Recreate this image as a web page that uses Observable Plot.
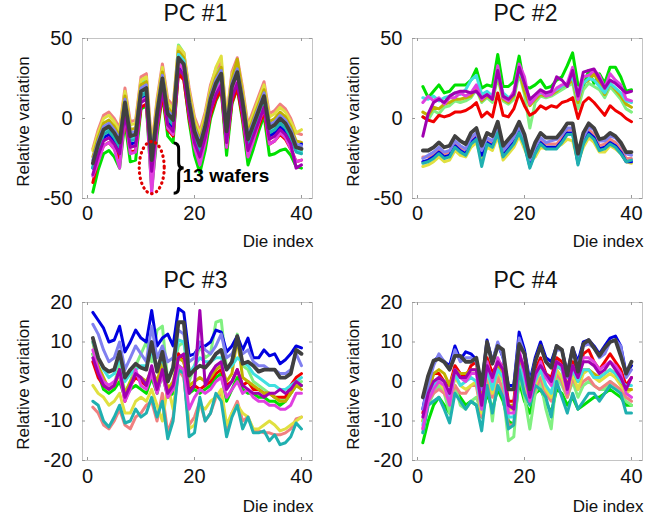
<!DOCTYPE html>
<html><head><meta charset="utf-8">
<script src="https://cdn.jsdelivr.net/npm/d3@7"></script>
<script src="https://cdn.jsdelivr.net/npm/@observablehq/plot@0.6"></script>
<style>
html,body{margin:0;padding:0;background:#fff;}
#root{position:relative;width:665px;height:518px;overflow:hidden;font-family:"Liberation Sans",Arial,sans-serif;}
.panel{position:absolute;}
</style></head><body><div id="root"></div>
<script>
const dieIndex = [1,2,3,4,5,6,7,8,9,10,11,12,13,14,15,16,17,18,19,20,21,22,23,24,25,26,27,28,29,30,31,32,33,34,35,36,37,38,39,40];
const wafers = ["Wafer 1","Wafer 2","Wafer 3","Wafer 4","Wafer 5","Wafer 6","Wafer 7","Wafer 8","Wafer 9","Wafer 10","Wafer 11","Wafer 12","Wafer 13"];
const waferColors = ["#00e000","#80f080","#f00000","#f08080","#e0e040","#c0b000","#0000e0","#8080f0","#40e0e0","#20b0b0","#e040e0","#a000b0","#404040"];
const pcTitles = ["PC #1","PC #2","PC #3","PC #4"];
const xTicks = [0,20,40];
const yTicksWide = [-50,0,50];
const yTicksNarrow = [-20,-10,0,10,20];
const xLabel = "Die index";
const yLabel = "Relative variation";
const annotationText = "13 wafers";
const annotationTextPos = [17.8, -36];
const ellipseCenter = [12.1, -31];
const ellipseRadiiPx = [12.5, 26];
const braceSpan = [16.2, -15.6, -47];

// wafer order: green, light green, red, salmon, yellow, olive, blue, light blue, cyan, teal, magenta, purple, dark gray
const pc1Values = [
[-46,-32,-22,-20,-24,-31,-2,-27,-26,6,8,-44,-11,15,-11,-15,30,25,-2,-23,-34,-20,0,11,18,-23,9,19,-2,-29,-19,-8,2,-23,-22,-20,-19,-23,-30,-31],
[-30,-16,-6,-4,-8,-15,14,-11,-10,22,24,-28,5,31,5,1,46,41,14,-7,-18,-4,16,27,34,-7,25,35,14,-13,-3,8,18,-5,-3,2,-1,-8,-19,-20],
[-40,-26,-17,-15,-19,-25,0,-21,-20,7,9,-36,-7,15,-7,-11,28,24,0,-18,-27,-15,2,12,18,-18,10,19,0,-23,-14,-5,4,-16,-14,-10,-13,-19,-27,-26],
[-19,-7,2,4,0,-6,19,-2,-1,26,28,-17,12,34,12,8,44,41,19,1,-8,4,21,31,35,1,29,38,19,-4,5,14,23,3,5,9,6,0,-9,-10],
[-20,-9,0,2,-2,-8,17,-4,-3,24,26,-19,10,32,10,6,45,41,17,-1,-10,2,19,32,39,-1,27,36,17,-6,3,12,21,1,3,7,4,-2,-9,-7],
[-24,-12,-3,-1,-5,-11,14,-7,-6,21,23,-22,7,29,7,3,42,38,14,-4,-13,-1,16,26,32,-4,24,37,14,-9,0,9,18,-2,0,4,1,-5,-14,-15],
[-31,-21,-12,-10,-14,-20,5,-16,-15,12,14,-31,-2,20,-2,-6,33,29,5,-13,-22,-10,7,17,21,-13,15,24,5,-18,-9,0,9,-11,-9,-5,-8,-14,-18,-16],
[-26,-14,-5,-3,-7,-13,12,-9,-8,19,21,-24,5,27,5,1,40,36,12,-6,-15,-3,14,24,30,-6,22,31,12,-11,-2,7,16,-4,-2,2,-1,-7,-16,-17],
[-30,-18,-9,-7,-11,-17,8,-13,-12,15,17,-28,1,23,1,-3,40,36,8,-10,-19,-7,10,20,26,-10,18,27,8,-15,-6,3,12,-8,-6,-2,-5,-11,-20,-21],
[-31,-19,-10,-8,-12,-18,7,-14,-13,14,16,-29,0,22,0,-4,35,31,7,-11,-20,-8,9,19,25,-11,17,26,7,-16,-7,2,11,-9,-7,-3,-6,-12,-21,-22],
[-36,-27,-17,-15,-19,-31,3,-22,-21,11,13,-47,-6,20,-6,-10,35,30,3,-18,-29,-15,5,16,23,-18,14,24,3,-24,-14,-3,7,-16,-14,-9,-12,-19,-27,-26],
[-35,-23,-14,-12,-16,-22,3,-18,-17,10,12,-33,-4,18,-4,-8,31,27,3,-15,-24,-12,5,15,21,-15,13,22,3,-20,-11,-2,7,-13,-11,-7,-10,-16,-31,-29],
[-28,-16,-7,-5,-9,-15,10,-11,-10,17,19,-26,3,25,3,-1,38,34,10,-8,-17,-5,12,22,28,-8,20,29,10,-13,-4,5,14,-6,-4,0,-3,-9,-18,-19]
];
const pc2Values = [
[20,13,17,21,16,17,21,21,21,24,31,19,21,20,40,20,20,23,39,20,19,21,24,19,20,24,26,33,41,21,20,30,22,28,22,32,32,26,17,18],
[1,-1,5,3,7,8,11,10,11,13,18,10,13,10,26,11,9,12,28,15,-6,10,14,13,14,16,18,20,22,6,18,22,20,18,13,20,16,12,6,4],
[1,-1,-2,2,1,2,4,4,5,7,10,1,4,1,16,2,1,6,16,8,2,4,8,6,8,7,10,11,13,0,10,13,10,6,2,8,5,3,0,-2],
[-24,-24,-22,-19,-22,-21,-15,-18,-20,-13,-10,-21,-13,-15,-6,-21,-17,-13,-6,-14,-28,-19,-13,-16,-16,-16,-12,-7,-7,-26,-13,-7,-10,-17,-16,-13,-15,-19,-25,-25],
[-30,-29,-27,-24,-27,-26,-20,-23,-24,-18,-15,-26,-18,-20,-11,-26,-22,-18,-11,-19,-27,-24,-18,-19,-18,-18,-16,-13,-14,-27,-18,-12,-15,-21,-21,-17,-19,-22,-27,-28],
[4,2,7,6,9,10,12,12,13,14,20,11,14,12,28,12,10,14,30,17,8,12,15,14,15,17,20,21,24,10,22,24,28,22,15,22,18,14,9,7],
[-27,-26,-24,-21,-24,-23,-17,-20,-22,-15,-12,-23,-15,-17,-8,-23,-19,-15,-8,-16,-30,-21,-15,-18,-18,-18,-14,-9,-9,-28,-15,-9,-12,-19,-18,-15,-17,-21,-27,-27],
[-25,-23,-21,-18,-21,-20,-14,-17,-19,-12,-9,-20,-12,-14,-5,-20,-16,-12,-5,-13,-26,-18,-12,-15,-14,-13,-10,-6,-6,-25,-12,-5,-7,-14,-14,-11,-12,-16,-22,-23],
[13,12,14,11,13,14,16,15,18,24,27,15,17,14,28,16,13,15,30,22,11,14,16,15,16,18,20,22,26,12,22,25,24,20,16,22,19,16,11,10],
[-28,-27,-25,-22,-25,-24,-18,-21,-23,-16,-13,-30,-16,-18,-9,-24,-20,-16,-9,-17,-31,-22,-16,-19,-19,-19,-15,-10,-10,-29,-16,-10,-13,-20,-19,-16,-18,-22,-27,-26],
[10,14,11,13,9,13,13,16,14,16,21,12,15,13,33,13,11,17,34,26,9,13,17,14,15,19,21,22,32,12,26,27,30,27,19,28,24,21,12,11],
[-11,3,10,12,10,14,16,17,17,16,17,13,15,12,30,14,12,15,32,22,12,15,18,16,17,26,24,20,30,14,29,30,31,25,19,24,22,19,16,17],
[-20,-20,-18,-15,-18,-17,-11,-14,-16,-9,-6,-17,-9,-11,-2,-17,-13,-9,-2,-10,-24,-15,-9,-12,-12,-12,-8,-3,-3,-22,-9,-3,-6,-13,-12,-9,-11,-15,-21,-21]
];
const pc3Values = [
[7,2,-2,-3,-2,0,-4,-2,-1,-2,-3,1,-3,2,-4,-3,4,3,-3,-2,-3,-2,-1,1,2,-5,-2,1,-2,-3,-3,-4,-4,-5,-5,-6,-5,-3,-1,-1],
[7,3,0,-2,-1,5,-3,0,4,7,10,5,13,14,0,3,9,10,0,4,9,6,7,15,15.5,3,5,12,4,3,0,-1,-2,-3,-4,-5,-4,-3,-1,0],
[5,1,-1,-2,-1,3,-5,-1,1,0,-1,3,-2,4,-3,-2,7,5,-2,-1,-2,-1,0,2,3,-1,0,3,-1,0,-2,-2,-3,-3,-4,-4,-4,-1,1,2],
[-6.5,-8,-11,-12,-10,-7,-11,-12,-9,-8,-6,-5,-10,-3,-13,-9,3,1,-11,-9,-5,-10,-8,-4,-3,-12,-8,-5,-10,-9,-12.5,-12.5,-13,-13,-13.5,-13.5,-13,-12,-9.5,-9],
[-1,-3,-4,-6,-5,-3,-8,-8,-5,-4,-5,-2,-6,-10,-1,-7,3,2,-12,-11,-6,-7,-5,-4,-2,-11,-8,-6,-8,-9,-12,-12,-11,-10,-11,-12.5,-12,-11,-10,-9],
[10,4,1,-2,-1,2,-3,0,2,1,0,3,0,5,-2,0,6,5,-1,0,1,0,1,3,4,0,2,11,1,0,-1,-2,-3,-3,-4,-5,-5,-3,-1,-2],
[17.5,15.5,13.5,10,10.5,14,7.5,10,13,11,10,18,9,11,12,9,18.5,17.5,6.5,7,9,9,10,13,12.5,7.5,9,11.5,8,11,6,6,8,6.5,7,4.5,5.5,7,9,8.5],
[14.5,12,8,5,6,10,3,6,9,7,5,14,6,9,5,6,13,12,5,6,10,8,7,9,12,6,7,10,7,8,5,4,4,3,3,2,2,3,7,4],
[10,6,3,1,2,6,0,2,3,4,4,8,3,6,0,4,10.5,10,2,4,6,5,5,6,6,3,4,6,5,4,2,1,0,-1,-1,-2,-2,-1,0,1],
[-5,-6,-10,-11.5,-9,-6,-10.5,-10,-7,-9,-8,-4,-9,-5,-14.5,-10,3,2,-14,-13,-4,-10,-8,-3,-5,-14,-9,-6,-12,-9,-13,-13,-12.5,-15,-13.5,-16,-15.5,-14,-10.5,-12],
[8,3,0,-1,0,2,-5,-2,3,-1,-2,2,-3,2,-4,-2,4,3,-7,-4,-2,-3,-2,0,1,-4,-2,0,-3,-2,-4,-5,-5,-6,-6,-7,-7,-6,-3,-3],
[6,2,-1,-2,-1,3,-4,-1,2,1,-1,4,-2,3,-3,-1,6,7,-3,-1,18,-1,2,4,5,-2,0,3,-1,-2,-3,-3,-4,-3,-3,-2,-3,-2,0,-1],
[11,6,3.5,2.5,3,7.5,1,3,4.5,3.5,3,10,2.5,7.5,0,3.5,15,15,1.5,3,4,3.5,5,7,8,3,5,11.5,4.5,5,4,2.5,3,3,3,1,1,2,8,7]
];
const pc4Values = [
[-15.5,-10,-6,-4,-6,-8,-2,-4,-6,-5,-6,-9,-3,-7,-2,-5,-10,-11,0,-5,-8,-3,-2,-5,-8,-2,-3,-6,-4,-7,-6,-5,-4,-4,-3,-2,-3,-4,-6,-6],
[-13,-6,-3,-1,-3,-8,-1,-6,-7,-5,-4,-8,2,-10,2,-3,-15,-14,2,-4,-12,-3,0,-7,-12,1,-1,-4,0,-4,-1,0,-1,-2,-2,0,-1,-3,-5,-6],
[-8,-2,2,2,0,-1,4,2,1,4,5,-6,6,2,5,4,-5,-5,7,3,-2,3,6,2,1,6,5,-2,5,1,7,8,5,3,5,7,5,3,-1,1],
[-12,-5,-3,-2,-3,-5,-1,-3,-3,-1,-1,-9,1,-4,1,-2,-11,-11,3,-2,-5,-2,1,-3,-5,2,0,-4,1,-2,0,1,-1,-2,-1,0,-1,-2,-4,-5],
[-10,-4,-1,0,-2,-5,1,-1,-2,-1,0,-8,3,-3,3,0,-7,-7,5,-1,-4,-1,3,-2,-4,3,1,-3,2,-2,2,3,1,0,1,2,1,-1,-3,-2],
[-10,-3,2,3,2,-1,3,2,2,3,3,-5,4,1,4,2,-6,-6,5,1,-3,2,4,2,0,4,3,-2,3,0,3,3,2,1,2,3,2,0,-2,-2],
[-7,0,5,6.5,5,4,9,5.5,7.5,7,5.5,-1,10.5,5,9.5,6,-1,-1,12.5,8,0,6,10,6,5,9,8,2,8.5,5,10,10.5,9,7,9,11,11.5,9,2,4],
[-7,-1,4,7,5,3,8,5,6,6,5,-2,10,5,10,6,-2,-2,11,7,-1,5,9,5,4,8,8,1,8,4,9,9.5,8.5,6,7,10,10.5,9,1,3],
[-11,-3,-1,1,0,-5,2,-1,0,1,0,-7,3,-2,3,1,-9,-9,4,0,-3,0,3,-1,-3,4,3,-2,3,0,3,3,1,1,2,3,2,0,-1,-1],
[-13,-6,-5,-4,-7,-10.5,-3,-5,-7,-5,-6,-12.5,-1,-8,-1,-4,-12,-11,3,-3,-6,-1,-2,-4,-9,0,-4,-8,-3,-7,-5,-3,-3,-5,-3,-1,-2,-3,-8,-8],
[-12,-5,-2,0,-1,-6,3,1,0,2,2,-7,5,0,6,3,-8,-8,8,2,-5,1,5,1,-1,5,4,-3,4,1,6,6,5,3,4,5,4,2,-3,-4],
[-9,-3,0,1,0,-3,3,1,1,3,3,-6,4,1,5,3,-6,-7,7,3,-4,2,4,2,0,5,4,-2,4,1,5,5,4,2,3,5,3,1,-2,1],
[-4,1.5,5.3,5.7,4.9,3,6.5,6.5,5,5,6,-1,10,4.5,9,8,-2,-2,9.5,7,-2,5,9,5,3.5,9,8,1.5,8.5,2.5,9.5,10.5,8.5,6.5,8.5,10,10.5,6.5,2,5]
];

function toRows(values) {
  return values.flatMap((series, w) => series.map((v, k) => ({die: dieIndex[k], value: v, wafer: wafers[w]})));
}

const W = 330, H = 258, ML = 82, MR = 18;
const FONT = "'Liberation Sans', Arial, sans-serif";

function makePanel({title, values, yDomain, yTicks, left, top, marginTop, innerH, titleDy, labelDy, tickPad, annotate}) {
  const rows = toRows(values);
  const grayName = wafers[wafers.length - 1];
  const innerW = W - ML - MR;
  const marks = [
    Plot.frame({stroke: "#c4c4c4", strokeWidth: 1}),
    Plot.tickX(xTicks, {x: d => d, insetTop: innerH - 3, stroke: "#999"}),
    Plot.tickX(xTicks, {x: d => d, insetBottom: innerH - 3, stroke: "#999"}),
    Plot.tickY(yTicks, {y: d => d, insetRight: innerW - 3, stroke: "#999"}),
    Plot.tickY(yTicks, {y: d => d, insetLeft: innerW - 3, stroke: "#999"}),
    Plot.axisX({ticks: xTicks, tickSize: 0, tickPadding: tickPad, label: null, fontSize: 20, tickFormat: d => String(d)}),
    Plot.axisY({ticks: yTicks, tickSize: 0, tickPadding: 10, label: null, fontSize: 20, tickFormat: d => String(d)}),
    Plot.line(rows.filter(d => d.wafer !== grayName), {x: "die", y: "value", z: "wafer", stroke: "wafer", strokeWidth: 3, strokeLinejoin: "round"}),
    Plot.line(rows.filter(d => d.wafer === grayName), {x: "die", y: "value", z: "wafer", stroke: "wafer", strokeWidth: 3.8, strokeLinejoin: "round"}),
    Plot.text([title], {frameAnchor: "top", lineAnchor: "middle", textAnchor: "middle", dy: titleDy, dx: -2, fontSize: 23, fill: "#111"}),
    Plot.text([yLabel], {frameAnchor: "left", rotate: -90, textAnchor: "middle", lineAnchor: "middle", dx: -59, dy: 3, fontSize: 17, fill: "#111"}),
    Plot.text([xLabel], {frameAnchor: "bottom-right", textAnchor: "end", lineAnchor: "middle", dx: 1, dy: labelDy, fontSize: 17, fill: "#111"})
  ];
  if (annotate) {
    marks.push(Plot.text([annotationText], {x: annotationTextPos[0], y: annotationTextPos[1], textAnchor: "start", lineAnchor: "middle", fontWeight: "bold", fontSize: 19, fill: "#000"}));
  }
  const chart = Plot.plot({
    width: W, height: H,
    marginLeft: ML, marginRight: MR, marginTop: marginTop, marginBottom: H - marginTop - innerH,
    style: {fontFamily: FONT, fontSize: "20px", color: "#111", background: "transparent", overflow: "visible"},
    x: {domain: [-0.935, 42.06]},
    y: {domain: yDomain},
    color: {domain: wafers, range: waferColors},
    marks
  });
  const div = document.createElement("div");
  div.className = "panel";
  div.style.left = left + "px";
  div.style.top = top + "px";
  div.appendChild(chart);
  document.getElementById("root").appendChild(div);

  if (annotate) {
    const sx = chart.scale("x"), sy = chart.scale("y");
    const svg = d3.select(chart);
    const cx = sx.apply(ellipseCenter[0]), cy = sy.apply(ellipseCenter[1]);
    svg.append("ellipse")
      .attr("cx", cx).attr("cy", cy)
      .attr("rx", ellipseRadiiPx[0]).attr("ry", ellipseRadiiPx[1])
      .attr("fill", "none").attr("stroke", "#e00000").attr("stroke-width", 3.2)
      .attr("stroke-dasharray", "0.5,4.6").attr("stroke-linecap", "round");
    const bx = sx.apply(braceSpan[0]);
    const y1 = sy.apply(braceSpan[1]), y2 = sy.apply(braceSpan[2]);
    const ym = (y1 + y2) / 2;
    const w = 5;
    const path = `M${bx},${y1} Q${bx + w},${y1} ${bx + w},${y1 + 6} L${bx + w},${ym - 5} Q${bx + w},${ym} ${bx + 2 * w},${ym} Q${bx + w},${ym} ${bx + w},${ym + 5} L${bx + w},${y2 - 6} Q${bx + w},${y2} ${bx},${y2}`;
    svg.append("path").attr("d", path).attr("fill", "none").attr("stroke", "#000").attr("stroke-width", 3);
  }
}

makePanel({title: pcTitles[0], values: pc1Values, yDomain: [-50, 50], yTicks: yTicksWide, left: 0, top: 0, marginTop: 38, innerH: 160, titleDy: -24.5, labelDy: 43.5, tickPad: 7, annotate: true});
makePanel({title: pcTitles[1], values: pc2Values, yDomain: [-50, 50], yTicks: yTicksWide, left: 330, top: 0, marginTop: 38, innerH: 160, titleDy: -24.5, labelDy: 43.5, tickPad: 7, annotate: false});
makePanel({title: pcTitles[2], values: pc3Values, yDomain: [-20, 20], yTicks: yTicksNarrow, left: 0, top: 260, marginTop: 42, innerH: 158, titleDy: -22, labelDy: 46, tickPad: 8, annotate: false});
makePanel({title: pcTitles[3], values: pc4Values, yDomain: [-20, 20], yTicks: yTicksNarrow, left: 330, top: 260, marginTop: 42, innerH: 158, titleDy: -22, labelDy: 46, tickPad: 8, annotate: false});
</script>
</body></html>
